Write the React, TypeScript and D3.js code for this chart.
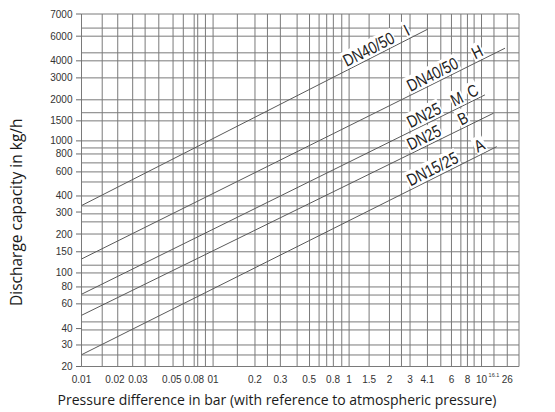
import React, { useEffect, useRef } from 'react';
import * as d3 from 'd3';

const width = 555;
const height = 412;

// chart paper grid
const xGridValues = [0.01, 0.0143, 0.0187, 0.0242, 0.03, 0.038, 0.0486, 0.058, 0.07, 0.0744, 0.085, 0.097, 0.1475, 0.2, 0.248, 0.31, 0.414, 0.513, 0.605, 0.69, 0.774, 0.895, 1.016, 1.435, 2.04, 2.51, 2.91, 3.93, 4.95, 5.95, 7, 7.84, 8.8, 10, 12.4, 15.6, 19.1];
const yGridValues = [20, 24.4, 29, 37.6, 43.2, 58.9, 68.7, 79, 100.6, 115, 145, 197, 243, 279, 320, 380, 484, 576, 673, 785, 871, 984, 1390, 1600, 2000, 2920, 3920, 4500, 6000, 6900, 8800];

const xTickValues = [0.01, 0.0178, 0.0265, 0.0476, 0.0702, 0.0969, 0.2, 0.31, 0.51, 0.77, 1.016, 1.435, 2.04, 2.91, 3.93, 5.95, 7.84, 10, 12.4, 15.6];
const xTickLabels = ['0.01', '0.02', '0.03', '0.05', '0.08', '01', '0.2', '0.3', '0.5', '0.8', '1', '1.5', '2', '3', '4.1', '6', '8', '10', '16.1', '26'];
const yTickValues = [20, 29, 38.5, 59, 79, 100.6, 145, 197, 288, 380, 576, 785, 984, 1390, 2000, 2920, 3920, 6000, 8800];
const yTickLabels = ['20', '30', '40', '60', '80', '100', '150', '200', '300', '400', '600', '800', '1000', '1500', '2000', '3000', '4000', '6000', '7000'];

// discharge curves: [start, end] pressure (bar) and capacity (kg/h)
const pressureA = [0.01, 13.0];
const capacityA = [24.5, 891];
const pressureB = [0.01, 12.3];
const capacityB = [48.4, 1587];
const pressureC = [0.01, 10.6];
const capacityC = [69.6, 2177];
const pressureH = [0.01, 15.0];
const capacityH = [128, 4876];
const pressureI = [0.01, 3.95];
const capacityI = [322, 6772];

// labels sitting on each curve, with the pressure where they start
const labelsA = [{ text: 'DN15/25', p: 3.0 }, { text: 'A', p: 9.6 }];
const labelsB = [{ text: 'DN25', p: 3.0 }, { text: 'B', p: 7.2 }];
const labelsC = [{ text: 'DN25', p: 3.0 }, { text: 'M', p: 6.4 }, { text: 'C', p: 8.5 }];
const labelsH = [{ text: 'DN40/50', p: 3.0 }, { text: 'H', p: 9.2 }];
const labelsI = [{ text: 'DN40/50', p: 1.0 }, { text: 'I', p: 2.85 }];

const App: React.FC = () => {
    const svgRef = useRef<SVGSVGElement>(null);

    useEffect(() => {
        if (!svgRef.current) return;
        const svg = d3.select(svgRef.current);
        svg.selectAll('*').remove();

        const x = d3.scaleLog().domain([0.01, 19.1]).range([81.5, 519]);
        const y = d3.scaleLog().domain([20, 8800]).range([366.5, 14]);
        const [xMin, xMax] = x.domain();
        const [yMin, yMax] = y.domain();

        const grid = svg.append('g').attr('stroke', '#7a7a7a').attr('stroke-width', 1);

        grid.selectAll('line.v')
            .data(xGridValues)
            .join('line')
            .attr('class', 'v')
            .attr('x1', d => x(d)).attr('x2', d => x(d))
            .attr('y1', y(yMin)).attr('y2', y(yMax));

        grid.selectAll('line.h')
            .data(yGridValues)
            .join('line')
            .attr('class', 'h')
            .attr('x1', x(xMin)).attr('x2', x(xMax))
            .attr('y1', d => y(d)).attr('y2', d => y(d));

        // small ticks to the left of the y axis
        svg.append('g')
            .selectAll('line')
            .data(yTickValues)
            .join('line')
            .attr('x1', x(xMin) - 5.5).attr('x2', x(xMin))
            .attr('y1', d => y(d)).attr('y2', d => y(d))
            .attr('stroke', '#6a6a6a');

        const curves = [
            { p: pressureA, q: capacityA, labels: labelsA },
            { p: pressureB, q: capacityB, labels: labelsB },
            { p: pressureC, q: capacityC, labels: labelsC },
            { p: pressureH, q: capacityH, labels: labelsH },
            { p: pressureI, q: capacityI, labels: labelsI },
        ];

        const line = d3.line<[number, number]>()
            .x(d => x(d[0]))
            .y(d => y(d[1]));

        curves.forEach(c => {
            svg.append('path')
                .datum(c.p.map((p, i) => [p, c.q[i]] as [number, number]))
                .attr('fill', 'none')
                .attr('stroke', '#5a5a5a')
                .attr('stroke-width', 1)
                .attr('d', line);
        });

        // labels along the curves
        curves.forEach(c => {
            const x0 = x(c.p[0]), y0 = y(c.q[0]);
            const x1 = x(c.p[1]), y1 = y(c.q[1]);
            const angle = Math.atan2(y1 - y0, x1 - x0) * 180 / Math.PI;

            c.labels.forEach(l => {
                const px = x(l.p);
                const py = y0 + (px - x0) * (y1 - y0) / (x1 - x0);
                const g = svg.append('g')
                    .attr('transform', `translate(${px},${py}) rotate(${angle}) scale(0.82,1)`);
                const rect = g.append('rect').attr('fill', '#fff');
                const t = g.append('text')
                    .attr('x', 0)
                    .attr('y', -3)
                    .attr('font-family', 'Liberation Sans, Arial, sans-serif')
                    .attr('font-size', 17)
                    .attr('fill', '#222')
                    .text(l.text);
                const b = (t.node() as SVGTextElement).getBBox();
                rect.attr('x', b.x - 1).attr('y', b.y).attr('width', b.width + 2).attr('height', b.height - 1);
            });
        });

        // tick labels
        svg.append('g')
            .selectAll('text')
            .data(yTickValues)
            .join('text')
            .attr('x', x(xMin) - 9)
            .attr('y', d => y(d))
            .attr('dy', '0.35em')
            .attr('text-anchor', 'end')
            .attr('font-family', 'Liberation Sans, Arial, sans-serif')
            .attr('font-size', 10)
            .attr('fill', '#333')
            .text((d, i) => yTickLabels[i]);

        svg.append('g')
            .selectAll('text')
            .data(xTickValues)
            .join('text')
            .attr('x', d => x(d))
            .attr('y', (d, i) => xTickLabels[i] === '16.1' ? 377 : 382.5)
            .attr('text-anchor', 'middle')
            .attr('font-family', 'Liberation Sans, Arial, sans-serif')
            .attr('font-size', (d, i) => xTickLabels[i] === '16.1' ? 5.5 : 10)
            .attr('fill', '#333')
            .text((d, i) => xTickLabels[i]);

        // axis titles
        svg.append('text')
            .attr('transform', `translate(22,${(y(yMin) + y(yMax)) / 2 + 22}) rotate(-90)`)
            .attr('text-anchor', 'middle')
            .attr('font-family', 'Open Sans, Noto Sans, sans-serif')
            .attr('font-size', 15.5)
            .attr('fill', '#1a1a1a')
            .text('Discharge capacity in kg/h');

        svg.append('text')
            .attr('x', 277)
            .attr('y', 405)
            .attr('text-anchor', 'middle')
            .attr('font-family', 'Open Sans, Noto Sans, sans-serif')
            .attr('font-size', 14)
            .attr('fill', '#1a1a1a')
            .text('Pressure difference in bar (with reference to atmospheric pressure)');
    }, []);

    return (
        <svg ref={svgRef} width={width} height={height}
            style={{ position: 'absolute', left: 0, top: 0, background: '#fff' }}></svg>
    );
};

export default App;
